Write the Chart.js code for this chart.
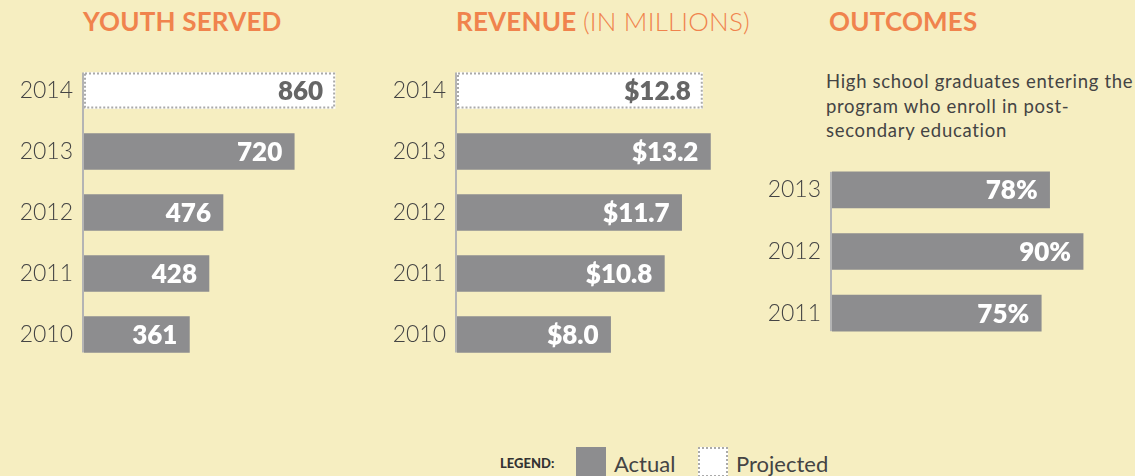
<!DOCTYPE html>
<html>
<head>
<meta charset="utf-8">
<script src="https://cdn.jsdelivr.net/npm/chart.js@4"></script>
<style>
  html, body { margin: 0; padding: 0; }
  body {
    width: 1135px; height: 476px; overflow: hidden; position: relative;
    background: #f6eec1; font-family: Lato, "Open Sans", sans-serif;
  }
  .titulo {
    position: absolute; top: 5px; color: #f0834d;
    font-size: 26px; font-weight: 700; letter-spacing: 0.2px; white-space: nowrap;
  }
  .titulo span { font-weight: 300; }
  .caixa { position: absolute; }
  .nota {
    position: absolute; left: 826px; top: 69px; width: 320px; white-space: nowrap;
    font-size: 18.5px; line-height: 24.5px; color: #444; letter-spacing: 0.7px;
  }
  .legenda { position: absolute; top: 447px; left: 500px; height: 30px; }
  .legenda .rot { position: absolute; top: 8px; left: 0; font-size: 13px; font-weight: 900; color: #333; }
  .legenda .quad { position: absolute; top: 0; width: 30px; height: 30px; box-sizing: border-box; }
  .legenda .txt { position: absolute; top: 3px; font-size: 22px; color: #444; white-space: nowrap; }
</style>
</head>
<body>
<div class="titulo" style="left:83px">YOUTH SERVED</div>
<div class="titulo" style="left:456px">REVENUE <span>(IN MILLIONS)</span></div>
<div class="titulo" style="left:829px">OUTCOMES</div>
<div class="nota">High school graduates entering the<br>program who enroll in post-<br>secondary education</div>

<div class="caixa" style="left:0px;top:60px;width:376px;height:305px"><canvas id="grafico1"></canvas></div>
<div class="caixa" style="left:380px;top:60px;width:365px;height:305px"><canvas id="grafico2"></canvas></div>
<div class="caixa" style="left:750px;top:159px;width:361px;height:185px"><canvas id="grafico3"></canvas></div>

<div class="legenda">
  <div class="rot">LEGEND:</div>
  <div class="quad" style="left:76px;background:#8d8d8f"></div>
  <div class="txt" style="left:114px">Actual</div>
  <div class="quad" style="left:198px;background:#fff;border:2px dotted #aaa"></div>
  <div class="txt" style="left:236px">Projected</div>
</div>

<script>
// Dados dos gráficos
const anos = ['2014', '2013', '2012', '2011', '2010'];
const jovensAtendidos = [860, 720, 476, 428, 361];
const receitaMilhoes = [12.8, 13.2, 11.7, 10.8, 8.0];
const anosResultados = ['2013', '2012', '2011'];
const percentualMatricula = [78, 90, 75];
const anoProjetado = '2014';

const CINZA = '#8d8d8f';

// Linha do eixo + borda pontilhada do projetado + rótulo de valor dentro da barra
const rotulosBarras = {
  id: 'rotulosBarras',
  beforeDatasetsDraw(chart) {
    const barras = chart.getDatasetMeta(0).data;
    const ctx = chart.ctx;
    const topo = barras[0].y - barras[0].height / 2;
    const ult = barras[barras.length - 1];
    const fundo = ult.y + ult.height / 2;
    ctx.save();
    ctx.fillStyle = '#b4b4b4';
    ctx.fillRect(chart.chartArea.left - 2, topo, 2, fundo - topo);
    ctx.restore();
  },
  afterDatasetsDraw(chart, args, opts) {
    const ctx = chart.ctx;
    const labels = chart.data.labels;
    const valores = chart.data.datasets[0].data;
    chart.getDatasetMeta(0).data.forEach((bar, i) => {
      const projetado = labels[i] === anoProjetado;
      const y0 = bar.y - bar.height / 2;
      ctx.save();
      if (projetado) {
        ctx.strokeStyle = '#aaaaaa';
        ctx.lineWidth = 2;
        ctx.setLineDash([2, 2]);
        ctx.strokeRect(bar.base + 1, y0 + 1, bar.x - bar.base - 2, bar.height - 2);
        ctx.setLineDash([]);
      }
      ctx.fillStyle = projetado ? '#666666' : '#ffffff';
      ctx.font = '800 26px Lato, sans-serif';
      ctx.textAlign = 'right';
      ctx.textBaseline = 'middle';
      ctx.fillText(opts.formato(valores[i]), bar.x - 12, bar.y + 1);
      ctx.restore();
    });
  }
};

function criarGrafico(id, rotulos, valores, maximo, larguraEixo, formato) {
  return new Chart(document.getElementById(id), {
    type: 'bar',
    data: {
      labels: rotulos,
      datasets: [{
        data: valores,
        backgroundColor: rotulos.map(a => a === anoProjetado ? '#ffffff' : CINZA),
        borderWidth: 0,
        barThickness: 36
      }]
    },
    options: {
      indexAxis: 'y',
      responsive: true,
      maintainAspectRatio: false,
      animation: false,
      layout: { padding: 0 },
      plugins: {
        legend: { display: false },
        tooltip: { enabled: false },
        rotulosBarras: { formato: formato }
      },
      scales: {
        x: { display: false, min: 0, max: maximo },
        y: {
          grid: { display: false, drawTicks: false },
          border: { display: false },
          ticks: { color: '#444', padding: 11, font: { family: 'Lato', weight: 300, size: 23 } },
          afterFit(scale) {
            // largura fixa do eixo e sem folga vertical das legendas
            scale.width = larguraEixo;
            scale.paddingTop = 0;
            scale.paddingBottom = 0;
          }
        }
      }
    },
    plugins: [rotulosBarras]
  });
}

document.addEventListener('DOMContentLoaded', () => {
  criarGrafico('grafico1', anos, jovensAtendidos, 1000, 84, v => String(v));
  criarGrafico('grafico2', anos, receitaMilhoes, 15, 77, v => '$' + v.toFixed(1));
  criarGrafico('grafico3', anosResultados, percentualMatricula, 100, 82, v => v + '%');
});
</script>
</body>
</html>
